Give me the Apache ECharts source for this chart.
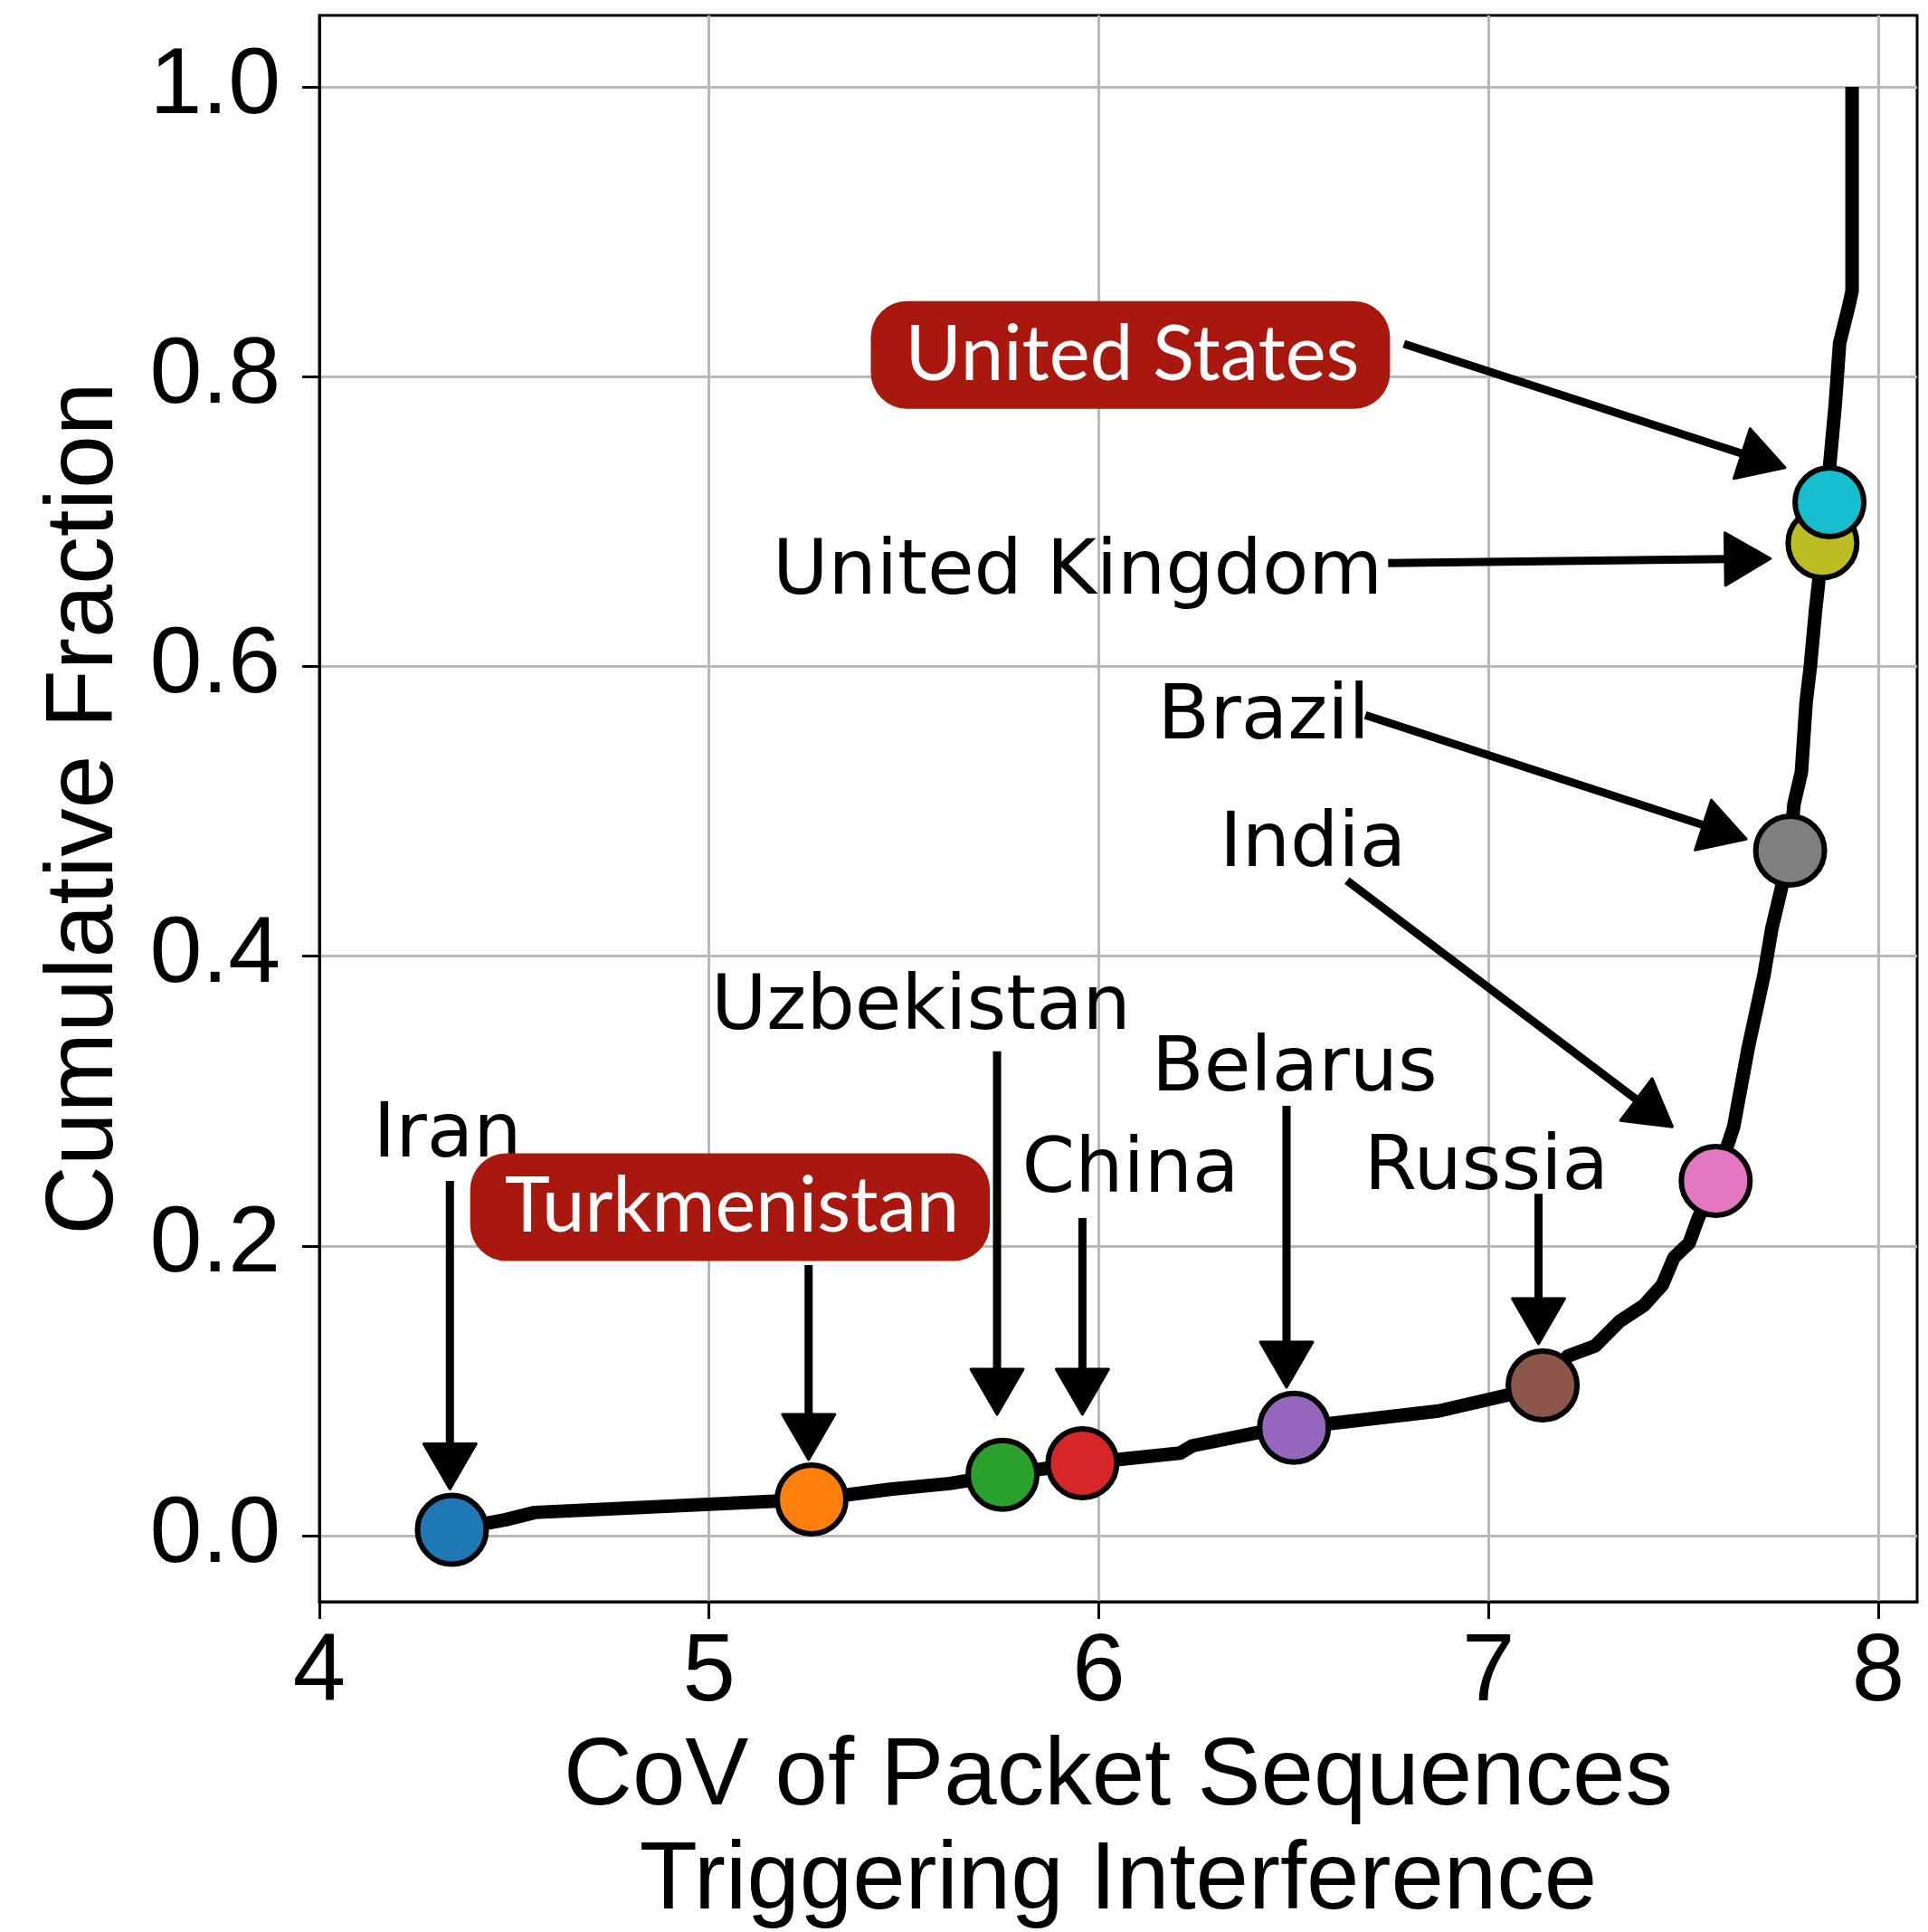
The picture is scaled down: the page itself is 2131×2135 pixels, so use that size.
<!DOCTYPE html>
<html><head><meta charset="utf-8">
<script src="https://cdn.jsdelivr.net/npm/echarts@6/dist/echarts.min.js"></script>
<style>html,body{margin:0;padding:0;background:#fff;} #c{width:2131px;height:2135px;}</style>
</head><body><div id="c"></div>
<script>
// CDF curve (x = CoV, y = cumulative fraction)
const cdfX = [4.340, 4.478, 4.553, 5.263, 5.465, 5.618, 5.753, 5.958, 6.209, 6.240, 6.405, 6.501, 6.872, 7.048, 7.139,
  7.204, 7.274, 7.337, 7.399, 7.446, 7.476, 7.515, 7.538, 7.583, 7.629, 7.666, 7.707, 7.727, 7.750, 7.774,
  7.784, 7.803, 7.815, 7.826, 7.839, 7.846, 7.857, 7.875, 7.876, 7.890, 7.901, 7.924, 7.933, 7.933];
const cdfY = [0.004, 0.011, 0.016, 0.025, 0.032, 0.036, 0.042, 0.050, 0.057, 0.062, 0.071, 0.0745, 0.086, 0.097, 0.1037,
  0.124, 0.131, 0.148, 0.159, 0.173, 0.192, 0.202, 0.219, 0.2448, 0.282, 0.336, 0.387, 0.419, 0.445, 0.4728,
  0.505, 0.527, 0.575, 0.600, 0.638, 0.655, 0.685, 0.7133, 0.740, 0.781, 0.823, 0.848, 0.859, 1.000];

// highlighted countries
const countries = ['Iran', 'Turkmenistan', 'Uzbekistan', 'China', 'Belarus', 'Russia', 'India', 'Brazil', 'United Kingdom', 'United States'];
const countryX = [4.340, 5.263, 5.753, 5.958, 6.501, 7.139, 7.583, 7.774, 7.857, 7.875];
const countryY = [0.004, 0.025, 0.042, 0.050, 0.0745, 0.1037, 0.2448, 0.4728, 0.685, 0.7133];
const countryColors = ['#1f77b4', '#ff7f0e', '#2ca02c', '#d62728', '#9467bd', '#8c564b', '#e377c2', '#7f7f7f', '#bcbd22', '#17becf'];

const xTicks = [4, 5, 6, 7, 8];
const yTicks = [0, 0.2, 0.4, 0.6, 0.8, 1.0];

// annotation text anchors (left edge, vertical middle) in data coords
const labelText = ['Iran', 'Turkmenistan', 'Uzbekistan', 'China', 'Belarus', 'Russia', 'India', 'Brazil', 'United Kingdom', 'United States'];
const labelX = [4.138, 4.387, 5.005, 5.803, 6.136, 6.681, 6.310, 6.151, 5.163, 5.415];
const labelY = [0.2808, 0.2267, 0.369, 0.2566, 0.3266, 0.2585, 0.4814, 0.5697, 0.6695, 0.8149];
const labelBoxed = [false, true, false, false, false, false, false, false, false, true];

// arrows: from -> to (data coords)
const arrowFromX = [4.335, 5.2555, 5.739, 5.958, 6.4818, 7.1284, 6.637, 6.684, 6.7425, 6.783];
const arrowFromY = [0.2448, 0.1867, 0.3343, 0.2192, 0.2967, 0.236, 0.4521, 0.5663, 0.6712, 0.8226];
const arrowToX = [4.335, 5.2555, 5.739, 5.958, 6.4818, 7.1284, 7.472, 7.6615, 7.7235, 7.761];
const arrowToY = [0.0322, 0.0525, 0.0837, 0.0837, 0.1024, 0.1324, 0.2822, 0.4808, 0.6744, 0.7372];

const chart = echarts.init(document.getElementById('c'), null, {renderer: 'canvas'});
const axisFont = 'Liberation Sans, Arial, Helvetica, sans-serif';

const markerSeries = countries.map((name, i) => ({
  type: 'scatter',
  name: name,
  data: [[countryX[i], countryY[i]]],
  symbol: 'circle',
  symbolSize: 76,
  z: 3 + i * 0.01,
  itemStyle: {color: countryColors[i], borderColor: '#000', borderWidth: 6, opacity: 1},
  emphasis: {disabled: true},
  silent: true
}));

chart.setOption({
  animation: false,
  backgroundColor: '#fff',
  grid: {left: 353, right: 12, top: 17, bottom: 365, show: true, borderColor: '#000', borderWidth: 3, containLabel: false, outerBoundsMode: 'none'},
  xAxis: {
    type: 'value', min: 4, max: 8.1,
    name: 'CoV of Packet Sequences\nTriggering Interference',
    nameLocation: 'middle', nameGap: 138,
    nameTextStyle: {fontFamily: axisFont, fontSize: 105, color: '#000', lineHeight: 115},
    axisLine: {show: true, onZero: false, lineStyle: {color: '#000', width: 3}},
    axisTick: {show: true, inside: false, length: 19, lineStyle: {color: '#000', width: 3}, customValues: xTicks},
    axisLabel: {show: true, fontFamily: axisFont, fontSize: 105, color: '#000', margin: 28, customValues: xTicks, formatter: v => String(v)},
    splitLine: {show: true, lineStyle: {color: '#b8b8b8', width: 3}}
  },
  yAxis: {
    type: 'value', min: -0.0456, max: 1.0493,
    name: 'Cumulative Fraction',
    nameLocation: 'middle', nameGap: 205, nameRotate: 90,
    nameTextStyle: {fontFamily: axisFont, fontSize: 106, color: '#000'},
    axisLine: {show: true, onZero: false, lineStyle: {color: '#000', width: 3}},
    axisTick: {show: true, inside: false, length: 19, lineStyle: {color: '#000', width: 3}, customValues: yTicks},
    axisLabel: {show: true, fontFamily: axisFont, fontSize: 104, color: '#000', margin: 43, customValues: yTicks, formatter: v => Number(v).toFixed(1)},
    splitLine: {show: true, lineStyle: {color: '#b8b8b8', width: 3}}
  },
  series: [
    {
      type: 'line',
      data: cdfX.map((x, i) => [x, cdfY[i]]),
      showSymbol: false,
      symbol: 'none',
      z: 2,
      lineStyle: {color: '#000', width: 15, join: 'round', cap: 'butt'},
      silent: true
    },
    ...markerSeries,
    {
      type: 'custom',
      coordinateSystem: 'cartesian2d',
      z: 5,
      silent: true,
      clip: false,
      data: arrowFromX.map((x, i) => [x, arrowFromY[i], arrowToX[i], arrowToY[i]]),
      encode: {x: [0, 2], y: [1, 3]},
      renderItem: function (params, api) {
        const p1 = api.coord([api.value(0), api.value(1)]);
        const p2 = api.coord([api.value(2), api.value(3)]);
        const dx = p2[0] - p1[0], dy = p2[1] - p1[1];
        const len = Math.hypot(dx, dy);
        const ux = dx / len, uy = dy / len;
        const headL = 50, headW = 58;
        const base = [p2[0] - ux * headL, p2[1] - uy * headL];
        const nx = -uy, ny = ux;
        return {
          type: 'group',
          children: [
            {type: 'line', shape: {x1: p1[0], y1: p1[1], x2: base[0] + ux * 4, y2: base[1] + uy * 4}, style: {stroke: '#000', lineWidth: 9}},
            {type: 'polygon', shape: {points: [[p2[0], p2[1]], [base[0] + nx * headW / 2, base[1] + ny * headW / 2], [base[0] - nx * headW / 2, base[1] - ny * headW / 2]]},
              style: {fill: '#000', stroke: '#000', lineWidth: 3, lineJoin: 'round'}}
          ]
        };
      }
    },
    {
      type: 'custom',
      coordinateSystem: 'cartesian2d',
      z: 6,
      silent: true,
      clip: false,
      data: labelX.map((x, i) => [x, labelY[i], i]),
      encode: {x: 0, y: 1},
      renderItem: function (params, api) {
        const idx = api.value(2);
        const p = api.coord([api.value(0), api.value(1)]);
        if (labelBoxed[idx]) {
          return {
            type: 'text', x: p[0], y: p[1],
            style: {
              text: labelText[idx], fill: '#fff', font: '85px Lato, "Open Sans", sans-serif',
              align: 'left', verticalAlign: 'middle',
              backgroundColor: '#a8180f', borderRadius: 40, padding: [17, 34, 17, 38]
            }
          };
        }
        return {
          type: 'text', x: p[0], y: p[1] + 9,
          style: {text: labelText[idx], fill: '#000', font: '84px "DejaVu Sans", sans-serif', align: 'left', verticalAlign: 'middle'}
        };
      }
    }
  ]
});
</script>
</body></html>
